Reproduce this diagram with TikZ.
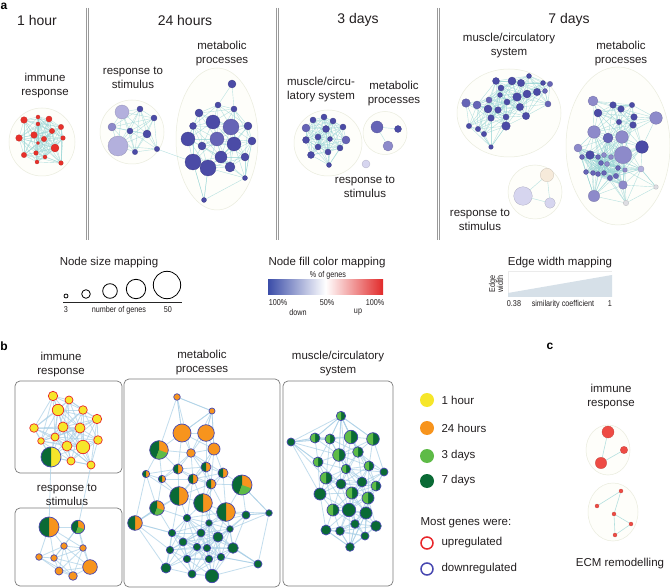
\documentclass[tikz,border=0pt]{standalone}
\usepackage{fontspec}
\setmainfont{Liberation Sans}
\newfontfamily\narrowfont[FakeStretch=0.85]{Liberation Sans}
\pgfdeclarelayer{clus}
\pgfdeclarelayer{edges}
\pgfsetlayers{clus,edges,main}
\definecolor{pP}{HTML}{4B4BA6}
\definecolor{pQ}{HTML}{6664B6}
\definecolor{pM}{HTML}{8D8ACA}
\definecolor{pL}{HTML}{B3B0DD}
\definecolor{pV}{HTML}{D6D5EF}
\definecolor{pG}{HTML}{DDDDE2}
\definecolor{pE}{HTML}{F6EADA}
\definecolor{pR}{HTML}{E8302A}
\definecolor{pC}{HTML}{EE4B44}
\definecolor{clfill}{HTML}{FEFEFA}
\definecolor{cldraw}{HTML}{EAECDD}
\definecolor{tealedge}{HTML}{96D4D4}
\definecolor{bedge}{HTML}{A9CFE6}
\definecolor{dkg}{HTML}{0A6A35}
\definecolor{ltg}{HTML}{5EBB47}
\definecolor{orng}{HTML}{F7941D}
\definecolor{yel}{HTML}{F6E62A}
\definecolor{ringR}{HTML}{E8262A}
\definecolor{ringB}{HTML}{4747B0}
\definecolor{barB}{HTML}{3B4DA8}
\definecolor{barR}{HTML}{E12A2A}
\definecolor{ramp}{HTML}{D6E0E8}
\definecolor{txt}{HTML}{231F20}
\definecolor{sepc}{HTML}{9A9A9A}
\definecolor{boxc}{HTML}{7A7A7A}
\tikzset{
 clusterbg/.style={fill=clfill, draw=cldraw, line width=0.5pt},
 aedge/.style={draw=tealedge, line width=0.4pt, opacity=0.7},
 bedgest/.style={draw=bedge, line width=0.8pt, opacity=0.7},
 anode/.style={circle, inner sep=0pt, outer sep=0pt, line width=0.25pt},
 ringdn/.style={circle, inner sep=0pt, outer sep=0pt, draw=ringB, line width=0.7pt},
 ringup/.style={circle, inner sep=0pt, outer sep=0pt, draw=ringR, line width=0.7pt},
 hdr/.style={font=\fontsize{14}{16}\selectfont, text=txt},
 lbl/.style={font=\fontsize{11.5}{14}\selectfont, align=center, text=txt},
 smalltxt/.style={font=\narrowfont\fontsize{8.5}{9}\selectfont, text=txt},
 plabel/.style={font=\bfseries\fontsize{12}{14}\selectfont},
 sepline/.style={draw=sepc, line width=0.6pt},
 bbox/.style={draw=boxc, line width=0.7pt, rounded corners=5pt, fill=white},
}
\newcommand\anodes[2]{\foreach \i/\x/\y/\rad/\typ in #2 {\edef\cc{p\typ}\node[anode, fill=\cc, draw=\cc!80!black, minimum size=\rad*2pt] (#1\i) at (\x,\y) {};}}
\newcommand\bnodes[2]{\foreach \i/\x/\y/\rad/\typ in #2 {\csname pie\typ\endcsname{#1\i}{\x}{\y}{\rad}}}
\newcommand\mesh[4]{\begin{pgfonlayer}{edges}\foreach \i/\xa/\ya/\ra/\ta in #2 {\foreach \j/\xb/\yb/\rb/\tb in #2 {\pgfmathtruncatemacro\ok{(\i<\j)*(veclen(\xa-\xb,\ya-\yb)<#3)}\ifnum\ok=1 \draw[#4] (#1\i) -- (#1\j);\fi}}\end{pgfonlayer}}
\newcommand\halfL[4]{\fill[#1] (#2,#3) -- ++(90:#4) arc[start angle=90, end angle=270, radius=#4] -- cycle;}
\newcommand\pieY[4]{\fill[yel] (#2,#3) circle[radius=#4]; \node[ringup, minimum size=#4*2pt] (#1) at (#2,#3) {};}
\newcommand\pieO[4]{\fill[orng] (#2,#3) circle[radius=#4]; \node[ringdn, minimum size=#4*2pt] (#1) at (#2,#3) {};}
\newcommand\pieD[4]{\fill[dkg] (#2,#3) circle[radius=#4]; \node[ringdn, minimum size=#4*2pt] (#1) at (#2,#3) {};}
\newcommand\pieH[4]{\fill[dkg] (#2,#3) circle[radius=#4]; \halfL{ltg}{#2}{#3}{#4}\node[ringdn, minimum size=#4*2pt] (#1) at (#2,#3) {};}
\newcommand\pieA[4]{\fill[orng] (#2,#3) circle[radius=#4]; \halfL{dkg}{#2}{#3}{#4}\node[ringdn, minimum size=#4*2pt] (#1) at (#2,#3) {};}
\newcommand\pieZ[4]{\fill[yel] (#2,#3) circle[radius=#4]; \halfL{dkg}{#2}{#3}{#4}\node[ringdn, minimum size=#4*2pt] (#1) at (#2,#3) {};}
\newcommand\pieT[4]{\fill[orng] (#2,#3) circle[radius=#4];
 \fill[dkg] (#2,#3) -- ++(110:#4) arc[start angle=110, end angle=270, radius=#4] -- cycle;
 \fill[ltg] (#2,#3) -- ++(20:#4) arc[start angle=20, end angle=110, radius=#4] -- cycle;
 \node[ringdn, minimum size=#4*2pt] (#1) at (#2,#3) {};}
% ---------- node lists ----------
\def\Lah{1/24/120/3.3/R, 2/38/117/2/R, 3/49/119/3/R, 4/61/127/2.7/R, 5/19/138/3.3/R, 6/34/135/3.3/R, 7/44/139/2.7/R, 8/52/131/2.7/R, 9/63/138/2.3/R, 10/38/143/1.7/R, 11/55/148/4/R, 12/24/155/2.7/R, 13/36/153/2.3/R, 14/45/157/2/R, 15/37/162/2/R, 16/61/163/2.3/R, 17/38/124/2/R}
\def\Lsr{1/122/112/7/L, 2/112/127/4/M, 3/118/146/10/L, 4/140/109/3/P, 5/154/118/3/P, 6/130/131/3/P, 7/147/134/4/P, 8/157/149/2.7/P, 9/135/152/2.7/P}
\def\Lsm{1/232/84/4/P, 2/199/113/4/P, 3/218/105/3/P, 4/234/109/3/P, 5/213/122/7/P, 6/231/127/8/Q, 7/193/126/3.5/P, 8/248/126/4/P, 9/188/139/7/P, 10/217/139/7/Q, 11/234/144/7/P, 12/202/146/4/P, 13/252/141/4/P, 14/193/162/8/P, 15/208/168/8/P, 16/221/157/6/P, 17/230/167/5/P, 18/245/157/4/P, 19/245/178/2.5/P, 20/204/200/2.5/P}
\def\Ldm{1/313/120/3/P, 2/324/117/3/P, 3/333/121/3/P, 4/306/128/4/Q, 5/326/129/3.5/P, 6/343/127/3/P, 7/306/140/3.5/P, 8/318/137/3/P, 9/330/139/2.5/P, 10/346/140/4/Q, 11/318/147/3/P, 12/340/148/3/P, 13/311/155/3.5/P, 14/328/152/3/P, 15/329/165/2.5/P}
\def\Ldt{1/377/127/6/Q, 2/398/129/3.5/P, 3/388/146/5/M}
\def\Ldr{1/366/164/4/V}
\def\Lgm{1/496/81/3.5/P, 2/512/81/4/P, 3/521/83/3.7/P, 4/529/76/2.5/P, 5/543/83/2.5/P, 6/550/84/2.7/Q, 7/501/88/3/P, 8/500/95/2.5/P, 9/527/94/4/P, 10/537/92/3.7/P, 11/545/91/2.5/Q, 12/466/103/4.3/Q, 13/477/105/4/Q, 14/489/100/3/Q, 15/507/102/3/P, 16/517/97/4.3/P, 17/548/104/3/Q, 18/488/109/4/P, 19/498/110/3.3/P, 20/520/107/3.7/P, 21/491/118/3.3/P, 22/506/117/3/P, 23/526/116/3.7/P, 24/469/126/2.7/P, 25/478/129/2.7/P, 26/506/126/4.3/P, 27/484/134/2.7/P, 28/491/147/2.3/P}
\def\Lgb{1/593/101/5/M, 2/613/105/3.3/P, 3/632/105/2.7/P, 4/598/113/4/P, 5/621/109/3.3/P, 6/656/118/6.3/M, 7/634/117/3.3/P, 8/619/122/2.7/P, 9/633/125/3.3/P, 10/594/132/6.3/M, 11/608/138/5/Q, 12/622/137/6.3/M, 13/642/147/6.3/P, 14/578/148/4/M, 15/623/155/8.7/M, 16/590/155/4.3/P, 17/582/157/2.5/Q, 18/598/157/2.5/Q, 19/604/155/2.5/M, 20/611/157/2.5/M, 21/601/163/2.5/Q, 22/607/164/2.5/M, 23/586/172/2.5/Q, 24/593/173/2.5/Q, 25/598/174/2.5/Q, 26/604/173/2.5/Q, 27/618/168/2.5/Q, 28/625/170/2.3/M, 29/641/169/3/L, 30/610/178/2.7/Q, 31/616/176/2.7/Q, 32/623/185/4.3/M, 33/656/187/2.3/G, 34/594/196/5.7/M, 35/626/203/2.7/G}
\def\Lgr{1/523/196/9.3/V, 2/547/175/6.7/E, 3/550/203/5.3/V}
\def\Lca{1/608/432/6/C, 2/624/450/3.7/C, 3/601/463/5.7/C}
\def\Lcb{1/621/491/2/C, 2/597/506/2/C, 3/614/514/2/C, 4/631/524/2/C, 5/615/535/2/C}
\def\Lbi{1/53/396/4.7/Y, 2/69/400/4/Y, 3/58/410/5.7/Y, 4/83/410/4.3/Y, 5/97/419/4.7/Y, 6/34/428/4.3/Y, 7/63/427/5/Y, 8/80/428/5/Y, 9/55/437/4/Y, 10/41/441/3.3/Y, 11/67/446/5/Y, 12/83/447/6.7/Y, 13/98/440/4.3/Y, 14/51/457/10/Z, 15/71/461/4/Y, 16/91/465/4/Y}
\def\Lbr{1/49/527/10/A, 2/78/527/6.7/T, 3/64/546/3.3/O, 4/83/548/3.3/O, 5/39/557/3.3/O, 6/54/558/3.3/O, 7/90/567/7.3/O, 8/59/571/4/O, 9/73/576/4.3/O}
\def\Lbm{1/177/397/3.3/O, 2/212/411/3/O, 3/182/433/9/O, 4/206/433/8.3/O, 5/159/450/9.3/T, 6/191/453/4.3/O, 7/214/449/6/O, 8/178/469/5/A, 9/206/467/5/A, 10/223/473/5/A, 11/146/474/3.7/A, 12/162/479/3.7/A, 13/193/479/5/A, 14/211/484/5/A, 15/242/485/10/T, 16/179/496/9.3/A, 17/203/503/9.3/A, 18/157/508/7.3/T, 19/226/512/9.3/A, 20/135/523/7.3/A, 21/246/515/4/D, 22/269/513/3.3/D, 23/187/518/3.7/D, 24/209/523/3.3/D, 25/230/529/3.3/D, 26/172/533/3.7/D, 27/201/533/4/D, 28/218/537/5/D, 29/183/542/4/D, 30/197/547/3.7/D, 31/207/548/3.7/D, 32/233/548/5.3/D, 33/170/550/3.7/D, 34/187/559/3.7/D, 35/209/559/3.7/D, 36/221/557/3.7/D, 37/258/564/4/D, 38/166/568/5/D, 39/192/574/4/D, 40/212/576/6.7/D}
\def\Lbc{1/341/416/4.7/H, 2/291/442/4/D, 3/315/438/5/H, 4/330/439/5/H, 5/351/437/6.7/H, 6/373/439/6.3/H, 7/339/455/6.3/H, 8/358/452/5.3/H, 9/318/462/5/H, 10/369/466/5/H, 11/384/472/4/D, 12/346/469/4.7/H, 13/326/478/6/H, 14/341/484/5/D, 15/362/482/5/D, 16/376/486/5/H, 17/320/494/6/D, 18/352/493/6/H, 19/368/498/6/H, 20/333/510/6/H, 21/349/510/6.7/D, 22/366/513/6/D, 23/326/530/5/D, 24/340/531/4.3/D, 25/355/524/4.3/D, 26/376/526/5.3/D, 27/365/536/4/D, 28/350/547/4.3/D}
\begin{document}
\begin{tikzpicture}[x=1pt, y=-1pt]
\useasboundingbox (0,0) rectangle (670,588);
\begin{pgfonlayer}{clus}
\fill[white] (0,0) rectangle (670,588);
% panel a clusters
\draw[clusterbg] (42,142) ellipse[x radius=33, y radius=34];
\draw[clusterbg] (132,132) ellipse[x radius=32, y radius=32];
\draw[clusterbg] (217,139) ellipse[x radius=41, y radius=71];
\draw[clusterbg] (328,143) ellipse[x radius=34, y radius=33];
\draw[clusterbg] (385,133) ellipse[x radius=22, y radius=21.5];
\draw[clusterbg] (509,113) ellipse[x radius=52, y radius=44];
\draw[clusterbg] (618,146) ellipse[x radius=52, y radius=79];
\draw[clusterbg] (535,192) ellipse[x radius=27, y radius=27];
% panel c clusters
\draw[clusterbg] (608,450) ellipse[x radius=22, y radius=25];
\draw[clusterbg] (613,512) ellipse[x radius=25, y radius=29];
% panel b boxes
\draw[bbox] (15,381) rectangle (122,473);
\draw[bbox] (15,508) rectangle (122,586);
\draw[bbox] (124,379) rectangle (280,587);
\draw[bbox] (283,381) rectangle (393,586);
\end{pgfonlayer}
% ---------- panel a ----------
\node[plabel] (la) at (4,6) {a};
\node[hdr] (h1) at (37,20) {1 hour};
\node[hdr] (h2) at (185,20) {24 hours};
\node[hdr] (h3) at (358,20) {3 days};
\node[hdr] (h4) at (569,20) {7 days};
\foreach \sx in {86,276,437}{
 \draw[sepline] (\sx,8) -- (\sx,240);
 \draw[sepline] (\sx+2.2,8) -- (\sx+2.2,240);
}
\node[lbl] (t1) at (45,86) {immune\\response};
\node[lbl] (t2) at (133,78) {response to\\stimulus};
\node[lbl] (t3) at (222,54) {metabolic\\processes};
\node[lbl] (t4) at (321,90) {muscle/circu-\\latory system};
\node[lbl] (t5) at (394,94) {metabolic\\processes};
\node[lbl] (t6) at (365,187) {response to\\stimulus};
\node[lbl] (t7) at (509,46) {muscle/circulatory\\system};
\node[lbl] (t8) at (621,54) {metabolic\\processes};
\node[lbl] (t9) at (480,220) {response to\\stimulus};
\anodes{ah}{\Lah}
\anodes{sr}{\Lsr}
\anodes{sm}{\Lsm}
\anodes{dm}{\Ldm}
\anodes{dt}{\Ldt}
\anodes{dr}{\Ldr}
\anodes{gm}{\Lgm}
\anodes{gb}{\Lgb}
\anodes{gr}{\Lgr}
\mesh{ah}{\Lah}{40}{aedge}
\mesh{sr}{\Lsr}{46}{aedge}
\mesh{sm}{\Lsm}{42}{aedge}
\mesh{dm}{\Ldm}{38}{aedge}
\mesh{gm}{\Lgm}{34}{aedge}
\mesh{gb}{\Lgb}{40}{aedge}
\begin{pgfonlayer}{edges}
\draw[aedge] (sr8) -- (sm14);
\draw[aedge] (sm20) -- (sm14);
\draw[aedge] (sm20) -- (sm15);
\draw[aedge] (sm20) -- (sm19);
\draw[aedge] (sm19) -- (sm13);
\draw[aedge] (dt1) -- (dt2);
\draw[aedge] (dt1) -- (dt3);
\draw[aedge] (gr1) -- (gr2);
\draw[aedge] (gr1) -- (gr3);
\draw[aedge] (gr2) -- (gr3);
\draw[aedge] (gm28) -- (gm25);
\draw[aedge] (gm28) -- (gm26);
\draw[aedge] (gb34) -- (gb23);
\draw[aedge] (gb34) -- (gb16);
\draw[aedge] (gb34) -- (gb14);
\draw[aedge] (gb33) -- (gb29);
\end{pgfonlayer}
% legends a
\node[lbl] (ns) at (109,263) {Node size mapping};
\node[draw, circle, inner sep=0pt, line width=0.8pt, minimum size=4pt] (s1) at (66,296) {};
\node[draw, circle, inner sep=0pt, line width=0.8pt, minimum size=8.6pt] (s2) at (86,294) {};
\node[draw, circle, inner sep=0pt, line width=0.8pt, minimum size=14.6pt] (s3) at (110,291) {};
\node[draw, circle, inner sep=0pt, line width=0.8pt, minimum size=19.4pt] (s4) at (136,289) {};
\node[draw, circle, inner sep=0pt, line width=0.8pt, minimum size=27.4pt] (s5) at (167,285) {};
\draw[line width=0.8pt, black!85] (63,302) -- (182,302);
\node[smalltxt] (s3t) at (66,310) {3};
\node[smalltxt] (sng) at (119,310) {number of genes};
\node[smalltxt] (s50) at (168,310) {50};
\node[lbl] (nf) at (327,263) {Node fill color mapping};
\node[smalltxt] (pg) at (328,275) {\% of genes};
\shade[left color=barB, right color=barR, middle color=white] (268,280) rectangle (383,295);
\node[smalltxt] (c1) at (278,303) {100\%};
\node[smalltxt] (c2) at (327,303) {50\%};
\node[smalltxt] (c3) at (375,303) {100\%};
\node[smalltxt] (cd) at (298,312) {down};
\node[smalltxt] (cu) at (358,312) {up};
\node[lbl] (ew) at (560,263) {Edge width mapping};
\draw[black!8, line width=0.4pt] (508,297) -- (508,271) -- (612,271);
\fill[ramp] (508,297) -- (508,293) -- (612,275) -- (612,297) -- cycle;
\node[smalltxt, rotate=90, align=center, font=\narrowfont\fontsize{8.5}{8}\selectfont] (ewl) at (496,284) {Edge\\width};
\node[smalltxt] (e1) at (514,304) {0.38};
\node[smalltxt] (e2) at (563,304) {similarity coefficient};
\node[smalltxt] (e3) at (610,304) {1};
% ---------- panel b ----------
\node[plabel] (lb) at (4,346) {b};
\node[lbl] (b1) at (61,365) {immune\\response};
\node[lbl] (b2) at (67,495) {response to\\stimulus};
\node[lbl] (b3) at (202,363) {metabolic\\processes};
\node[lbl] (b4) at (338,364) {muscle/circulatory\\system};
\bnodes{bi}{\Lbi}
\bnodes{br}{\Lbr}
\bnodes{bm}{\Lbm}
\bnodes{bc}{\Lbc}
\mesh{bi}{\Lbi}{48}{bedgest}
\mesh{br}{\Lbr}{42}{bedgest}
\mesh{bm}{\Lbm}{40}{bedgest}
\mesh{bc}{\Lbc}{40}{bedgest}
\begin{pgfonlayer}{edges}
\draw[bedgest] (bi14) -- (br1);
\draw[bedgest] (bi16) -- (br2);
\foreach \k in {2,3,5,6}{\draw[bedgest] (bm1) -- (bm\k);}
\foreach \k in {3,4,7,6}{\draw[bedgest] (bm2) -- (bm\k);}
\foreach \k in {11,18,26,33,38,16}{\draw[bedgest] (bm20) -- (bm\k);}
\foreach \k in {15,21,19,37,25}{\draw[bedgest] (bm22) -- (bm\k);}
\foreach \k in {32,40,36,28}{\draw[bedgest] (bm37) -- (bm\k);}
\foreach \k in {1,3,4,9,13,17,7}{\draw[bedgest] (bc2) -- (bc\k);}
\foreach \k in {3,4,5,6,7,8,12}{\draw[bedgest] (bc1) -- (bc\k);}
\foreach \k in {23,24,25,27,22}{\draw[bedgest] (bc28) -- (bc\k);}
\end{pgfonlayer}
% legend b
\node[circle, fill=yel, inner sep=0pt, minimum size=14pt] (ly) at (427,400) {};
\node[circle, fill=orng, inner sep=0pt, minimum size=14pt] (lo) at (427,428) {};
\node[circle, fill=ltg, inner sep=0pt, minimum size=14pt] (lg) at (427,456) {};
\node[circle, fill=dkg, inner sep=0pt, minimum size=14pt] (ld) at (427,481) {};
\node[lbl, anchor=west] (lyt) at (438,400) {1 hour};
\node[lbl, anchor=west] (lot) at (438,428) {24 hours};
\node[lbl, anchor=west] (lgt) at (438,456) {3 days};
\node[lbl, anchor=west] (ldt) at (438,481) {7 days};
\node[lbl, anchor=west] (mg) at (417,523) {Most genes were:};
\node[circle, draw=ringR, line width=1.5pt, inner sep=0pt, minimum size=12pt] (lup) at (427,543) {};
\node[circle, draw=ringB, line width=1.5pt, inner sep=0pt, minimum size=12pt] (ldn) at (427,569) {};
\node[lbl, anchor=west] (lupt) at (438,543) {upregulated};
\node[lbl, anchor=west] (ldnt) at (438,569) {downregulated};
% ---------- panel c ----------
\node[plabel] (lc) at (550,346) {c};
\node[lbl] (c1l) at (611,397) {immune\\response};
\node[lbl] (c2l) at (620,564) {ECM remodelling};
\anodes{ca}{\Lca}
\anodes{cb}{\Lcb}
\begin{pgfonlayer}{edges}
\draw[aedge, line width=0.6pt] (ca1) -- (ca3);
\draw[aedge, line width=0.6pt] (ca2) -- (ca3);
\draw[aedge, line width=0.6pt] (cb1) -- (cb2);
\draw[aedge, line width=0.6pt] (cb1) -- (cb3);
\draw[aedge, line width=0.6pt] (cb3) -- (cb4);
\draw[aedge, line width=0.6pt] (cb3) -- (cb5);
\draw[aedge, line width=0.6pt] (cb4) -- (cb5);
\end{pgfonlayer}
\end{tikzpicture}
\end{document}
